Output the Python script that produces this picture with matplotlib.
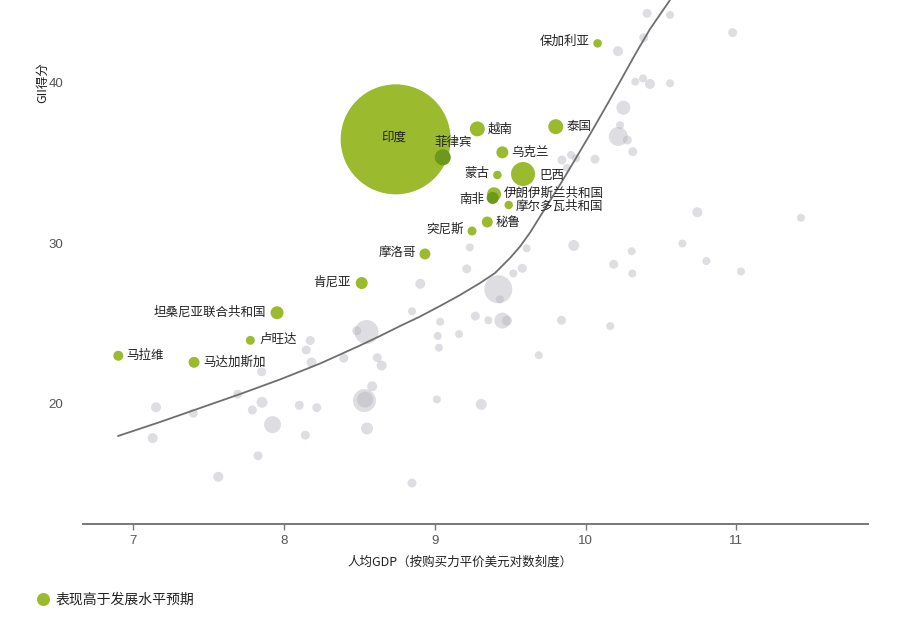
import numpy as np
import matplotlib
matplotlib.use("Agg")
import matplotlib.pyplot as plt

plt.rcParams['font.family'] = ['Noto Sans CJK SC', 'DejaVu Sans']

# Economies performing above expectations for their level of development
green_names = ['保加利亚', '印度', '菲律宾', '越南', '泰国', '乌克兰', '蒙古', '巴西',
               '伊朗伊斯兰共和国', '南非', '摩尔多瓦共和国', '秘鲁', '突尼斯', '摩洛哥',
               '肯尼亚', '坦桑尼亚联合共和国', '卢旺达', '马拉维', '马达加斯加']
green_gdp = [10.08, 8.742, 9.054, 9.283, 9.803, 9.449, 9.416, 9.586,
             9.394, 9.385, 9.491, 9.349, 9.248, 8.936,
             8.517, 7.956, 7.779, 6.904, 7.406]
green_gii = [42.45, 36.47, 35.35, 37.12, 37.26, 35.66, 34.25, 34.31,
             33.05, 32.82, 32.38, 31.32, 30.76, 29.33,
             27.52, 25.67, 23.95, 22.99, 22.58]
green_pop = [18, 3025, 64, 56, 56, 36, 18, 144,
             49, 36, 18, 30, 20, 30,
             36, 42, 20, 25, 30]

# All other economies
gray_gdp = [10.408, 10.560, 10.975, 10.386, 10.215, 10.330, 10.381, 10.427, 10.560,
            10.251, 10.229, 10.217, 10.277, 10.313, 10.063, 9.904, 9.844, 9.877, 9.937,
            9.233, 9.610, 9.922, 10.306, 10.187, 10.310, 9.213, 9.581, 9.522, 9.422,
            9.433, 9.270, 9.356, 9.449, 9.480, 9.841, 10.164, 9.162, 9.037, 9.021,
            9.029, 9.690, 9.015, 9.309, 10.741, 11.428, 10.642, 10.801, 11.030, 8.905,
            8.850, 8.549, 8.484, 8.176, 8.149, 8.184, 8.398, 8.620, 8.649, 7.854,
            7.695, 7.856, 7.792, 8.103, 8.219, 8.586, 8.535, 8.539, 7.926, 8.552,
            8.143, 7.154, 7.401, 7.132, 7.830, 7.567, 8.850]
gray_gii = [44.32, 44.22, 43.12, 42.80, 41.96, 40.06, 40.27, 39.92, 39.96,
            38.44, 37.35, 36.65, 36.43, 35.70, 35.23, 35.50, 35.18, 34.69, 35.29,
            29.74, 29.68, 29.86, 29.50, 28.69, 28.11, 28.40, 28.44, 28.12, 27.13,
            26.50, 25.46, 25.20, 25.18, 25.17, 25.20, 24.84, 24.34, 25.11, 24.22,
            23.49, 23.02, 20.27, 19.96, 31.93, 31.58, 29.98, 28.89, 28.24, 27.47,
            25.76, 24.47, 24.55, 23.94, 23.35, 22.57, 22.84, 22.87, 22.38, 21.99,
            20.60, 20.09, 19.61, 19.90, 19.76, 21.09, 20.20, 20.26, 18.70, 18.46,
            18.04, 19.78, 19.41, 17.86, 16.76, 15.45, 15.06]
gray_pop = [20, 16, 20, 20, 25, 16, 16, 25, 16,
            49, 16, 90, 20, 20, 20, 16, 20, 16, 16,
            16, 16, 30, 16, 20, 16, 20, 20, 16, 196,
            16, 20, 16, 64, 25, 20, 16, 16, 16, 16,
            16, 16, 16, 30, 25, 16, 16, 16, 16, 25,
            16, 144, 20, 20, 20, 25, 20, 20, 25, 20,
            20, 30, 20, 20, 20, 25, 132, 64, 72, 36,
            20, 25, 20, 25, 20, 25, 20]

# Trend line: expected GII score by income level
trend_gdp = [6.902, 7.180, 7.445, 7.710, 7.975, 8.240, 8.506, 8.638, 8.771,
             8.903, 9.036, 9.168, 9.301, 9.400, 9.500, 9.566, 9.633, 9.732,
             9.832, 9.931, 10.031, 10.130, 10.229, 10.329, 10.428, 10.560]
trend_gii = [17.99, 18.86, 19.73, 20.60, 21.51, 22.50, 23.63, 24.22, 24.84,
             25.43, 26.09, 26.77, 27.52, 28.14, 29.08, 29.79, 30.67, 32.16,
             33.66, 35.21, 36.80, 38.42, 40.07, 41.76, 43.35, 45.15]

xticks = [7, 8, 9, 10, 11]
yticks = [20, 30, 40]

# label placement: (ha, dx, dy) in pixels relative to the bubble centre
label_pos = {
    '保加利亚': ('right', -8.3, 1.6),
    '印度': ('center', -2.4, 2.0),
    '菲律宾': ('center', 10.6, 15.0),
    '越南': ('left', 10.4, 0.0),
    '泰国': ('left', 10.3, 0.0),
    '乌克兰': ('left', 8.7, 0.0),
    '蒙古': ('right', -8.0, 1.7),
    '巴西': ('left', 16.3, -1.0),
    '伊朗伊斯兰共和国': ('left', 9.3, 1.0),
    '南非': ('right', -8.7, -2.0),
    '摩尔多瓦共和国': ('left', 7.0, -1.0),
    '秘鲁': ('left', 8.4, -0.7),
    '突尼斯': ('right', -8.0, 1.7),
    '摩洛哥': ('right', -9.0, 1.7),
    '肯尼亚': ('right', -10.7, 0.7),
    '坦桑尼亚联合共和国': ('right', -11.0, 1.0),
    '卢旺达': ('left', 8.7, 1.0),
    '马拉维': ('left', 8.4, 0.0),
    '马达加斯加': ('left', 9.3, 0.0),
}

GREEN = '#9cba2e'
GREEN_DARK = '#6c981b'
GRAY = (176 / 255, 176 / 255, 186 / 255)
TEXT = '#222222'
TICK = '#555555'

W, H, DPI = 909, 619, 100
fig = plt.figure(figsize=(W / DPI, H / DPI), dpi=DPI)
ax = fig.add_axes([83 / W, (H - 523.5) / H, (868 - 83) / W, 523.5 / H])
ax.set_xlim(6.670, 11.872)
ax.set_ylim(12.54, 45.15)

px2pt = 72 / DPI
size_scale = (2 * px2pt) ** 2  # bubble area units -> scatter area in pt^2

ax.scatter(gray_gdp, gray_gii, s=np.array(gray_pop) * size_scale, color=GRAY,
           alpha=0.42, linewidths=0, zorder=2)

ax.plot(trend_gdp, trend_gii, color='#6e6e6e', lw=1.3, zorder=3,
        solid_capstyle='round', solid_joinstyle='round')

# bubbles lying inside a larger green bubble are shown in a darker shade
gx = np.array(green_gdp)
gy = np.array(green_gii)
gr = np.sqrt(np.array(green_pop, dtype=float))
disp = ax.transData.transform(np.column_stack([gx, gy]))
colors = []
for i in range(len(gx)):
    inside = False
    for j in range(len(gx)):
        if j != i and gr[j] > gr[i]:
            d = np.hypot(*(disp[i] - disp[j]))
            if d < gr[j]:
                inside = True
    colors.append(GREEN_DARK if inside else GREEN)

order = np.argsort(-gr)
ax.scatter(gx[order], gy[order], s=np.array(green_pop)[order] * size_scale,
           c=[colors[k] for k in order], linewidths=0, zorder=4)

for name, x, y in zip(green_names, green_gdp, green_gii):
    ha, dx, dy = label_pos[name]
    ax.annotate(name, (x, y), xytext=(dx * px2pt, dy * px2pt),
                textcoords='offset points', ha=ha, va='center',
                fontsize=9, color=TEXT, zorder=5)

for side in ['top', 'right', 'left']:
    ax.spines[side].set_visible(False)
ax.spines['bottom'].set_color('#777777')
ax.spines['bottom'].set_linewidth(1.4)

ax.set_xticks(xticks)
ax.set_xticklabels([str(t) for t in xticks], family='Liberation Sans')
ax.set_yticks(yticks)
ax.set_yticklabels([str(t) for t in yticks], family='Liberation Sans')
ax.tick_params(axis='x', length=4, width=1, color='#777777', labelsize=9.5,
               labelcolor=TICK, pad=4)
ax.tick_params(axis='y', length=0, labelsize=9.5, labelcolor=TICK, pad=14)

fig.text(42.5 / W, 1 - 83 / H, 'GII得分', rotation=90, ha='center', va='center',
         fontsize=9, color=TEXT)
fig.text(460 / W, 1 - 562 / H, '人均GDP（按购买力平价美元对数刻度）', ha='center',
         va='center', fontsize=9, color=TEXT)

# legend
ax.scatter([43.3 / W], [1 - 599.3 / H], s=(6.5 ** 2) * size_scale, color=GREEN,
           linewidths=0, transform=fig.transFigure, clip_on=False)
fig.text(56 / W, 1 - 599.3 / H, '表现高于发展水平预期', ha='left', va='center',
         fontsize=10, color=TEXT)

fig.savefig('out.png', dpi=DPI)
